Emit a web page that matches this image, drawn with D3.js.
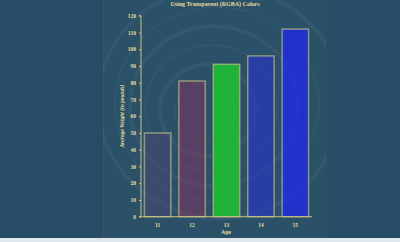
<!DOCTYPE html>
<html>
<head>
<meta charset="utf-8">
<script src="https://cdn.jsdelivr.net/npm/d3@7"></script>
<style>
    body { margin: 0; background: #274c65; }
    svg { display: block; }
    text { font-family: "Liberation Serif", "DejaVu Serif", serif; font-weight: bold; fill: #e6dc9a; }
</style>
</head>
<body>
<svg></svg>
<script>
// данные графика
const ages = ['11', '12', '13', '14', '15'];
const weights = [50, 81, 91, 96, 112];
const barColors = ['rgba(100, 60, 120, 0.3)', 'rgba(160, 40, 90, 0.4)', 'rgba(30, 210, 40, 0.75)',
    'rgba(40, 50, 200, 0.6)', 'rgba(30, 40, 235, 0.75)'];
const yTicks = [0, 10, 20, 30, 40, 50, 60, 70, 80, 90, 100, 110, 120];

const width = 400;
const height = 242;

const svg = d3.select('svg')
    .attr('width', width)
    .attr('height', height);

// светлая полоса снизу
svg.append('rect')
    .attr('x', 0).attr('y', 238).attr('width', width).attr('height', 4)
    .style('fill', '#dfe7ec');

// панель графика
svg.append('rect')
    .attr('x', 103).attr('y', 0).attr('width', 224).attr('height', 238)
    .style('fill', '#2b5169');
svg.append('line')
    .attr('x1', 103.5).attr('x2', 103.5).attr('y1', 0).attr('y2', 238)
    .style('stroke', '#4a4a70').style('stroke-width', 1);

// фоновые завитки (декор)
svg.append('clipPath').attr('id', 'panelClip')
    .append('rect').attr('x', 103).attr('y', 0).attr('width', 224).attr('height', 238);
const deco = svg.append('g').attr('clip-path', 'url(#panelClip)');
[30, 48, 66, 84, 102, 122].forEach((r, i) => {
    deco.append('ellipse')
        .attr('cx', 205 + i * 3).attr('cy', 112 - i * 2)
        .attr('rx', r).attr('ry', r * 0.95)
        .style('fill', 'none')
        .style('stroke', 'rgba(200, 220, 230, 0.05)')
        .style('stroke-width', i % 2 ? 4 : 1.5);
});

const marginLeft = 141;
const plotRight = 312;
const plotTop = 15.7;
const plotBottom = 216.7;

const scaleX = d3.scaleBand()
    .domain(ages)
    .range([marginLeft, plotRight])
    .paddingInner(0.233)
    .paddingOuter(0.1);

const scaleY = d3.scaleLinear()
    .domain([0, 120])
    .range([plotBottom, plotTop]);

// столбцы
svg.selectAll('.bar')
    .data(ages)
    .enter()
    .append('rect')
    .attr('class', 'bar')
    .attr('x', d => scaleX(d))
    .attr('y', (d, i) => scaleY(weights[i]))
    .attr('width', scaleX.bandwidth())
    .attr('height', (d, i) => plotBottom - scaleY(weights[i]))
    .style('fill', (d, i) => barColors[i])
    .style('stroke', 'rgba(210, 200, 140, 0.6)')
    .style('stroke-width', 1.5);

// ось OY
const axisY = d3.axisLeft(scaleY).tickValues(yTicks).tickSize(2).tickPadding(3);
const gy = svg.append('g')
    .attr('transform', `translate(${marginLeft}, 0)`)
    .call(axisY);
gy.select('.domain').style('stroke', '#c9c07e').attr('d', `M-2,${plotTop}H0V${plotBottom}H-2`);
gy.selectAll('.tick line').style('stroke', '#c9c07e');
gy.selectAll('text').style('font-size', '5.5px').style('fill', '#e6dc9a');

// ось OX
const axisX = d3.axisBottom(scaleX).tickSize(0).tickPadding(6);
const gx = svg.append('g')
    .attr('transform', `translate(0, ${plotBottom})`)
    .call(axisX);
gx.select('.domain').style('stroke', '#c9c07e').attr('d', `M${marginLeft},0H${plotRight}`);
gx.selectAll('text').style('font-size', '5.5px').style('fill', '#e6dc9a');

// подписи
svg.append('text')
    .attr('x', 215).attr('y', 6)
    .attr('text-anchor', 'middle')
    .style('font-size', '6px')
    .text('Using Transparent (RGBA) Colors');

svg.append('text')
    .attr('x', 226).attr('y', 234)
    .attr('text-anchor', 'middle')
    .style('font-size', '6px')
    .text('Age');

svg.append('text')
    .attr('transform', `translate(124, 116) rotate(-90)`)
    .attr('text-anchor', 'middle')
    .style('font-size', '5.5px')
    .style('font-style', 'italic')
    .text('Average Weight (in pounds)');
</script>
</body>
</html>
